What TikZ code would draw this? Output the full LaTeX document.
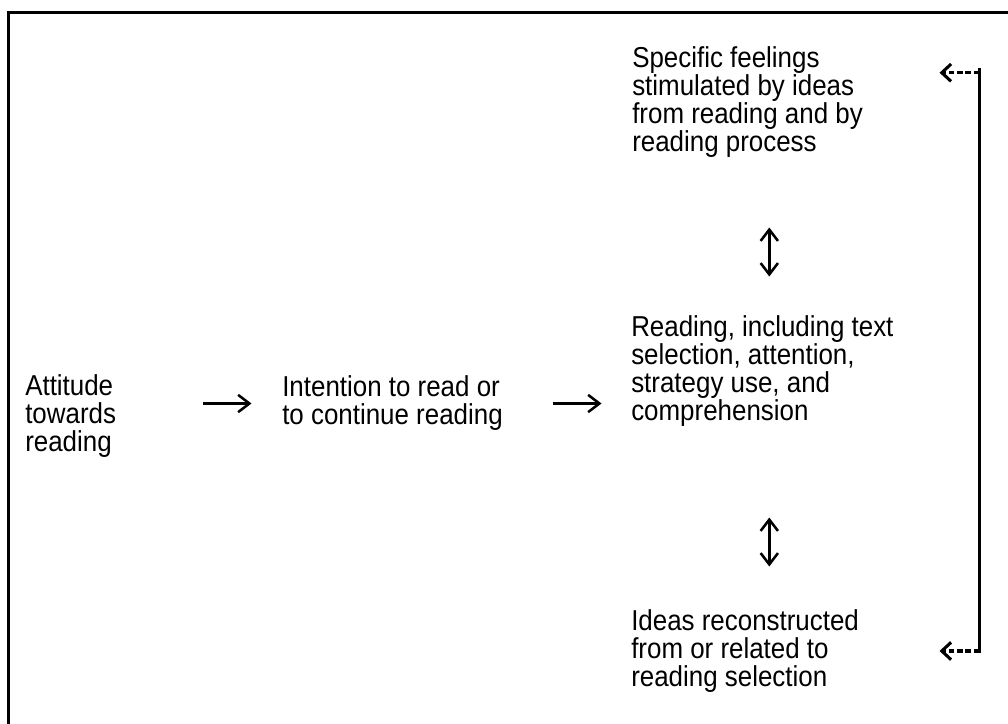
\documentclass[tikz,border=0pt]{standalone}
\usepackage{fontspec}
\setmainfont{Liberation Sans}[FakeStretch=0.9]
\usetikzlibrary{arrows.meta}
\tikzset{
  txt/.style={anchor=base west, inner sep=0pt, align=left, font=\fontsize{21.6}{20.9}\selectfont},
  arr/.style={line width=1.9pt, -{Straight Barb[length=8.5pt,width=13pt]}},
  darr/.style={line width=1.9pt, {Straight Barb[length=8.5pt,width=13pt]}-{Straight Barb[length=8.5pt,width=13pt]}},
  fbline/.style={line width=1.7pt},
  fbarr/.style={line width=2.3pt, dash pattern=on 4.3pt off 2pt, -{Straight Barb[length=7pt,width=13pt]}},
  frame/.style={line width=2.6pt}
}
\begin{document}
\begin{tikzpicture}[x=0.75pt,y=-0.75pt]
\useasboundingbox (0,0) rectangle (1008,724);
\draw[frame] (1012,12.3) -- (8.7,12.3) -- (8.7,728);
\node[txt] (att) at (25,451) {Attitude\\towards\\reading};
\node[txt] (int) at (282,424.7) {Intention to read or\\to continue reading};
\node[txt] (read) at (631,420) {Reading, including text\\selection, attention,\\strategy use, and\\comprehension};
\node[txt] (feel) at (632,151.1) {Specific feelings\\stimulated by ideas\\from reading and by\\reading process};
\node[txt] (ideas) at (631,686) {Ideas reconstructed\\from or related to\\reading selection};
\coordinate (a1s) at (203,403.5);
\coordinate (a1e) at (251.5,403.5);
\coordinate (a2s) at (553,403.5);
\coordinate (a2e) at (601.5,403.5);
\coordinate (d1t) at (769.3,227.5);
\coordinate (d1b) at (769.3,276.5);
\coordinate (d2t) at (769.3,517.5);
\coordinate (d2b) at (769.3,566.5);
\coordinate (fbt) at (979.5,68);
\coordinate (fbb) at (979.5,653);
\coordinate (fbts) at (979.5,72.7);
\coordinate (fbte) at (939.5,72.7);
\coordinate (fbbs) at (979.5,651);
\coordinate (fbbe) at (939.5,651);
\draw[arr] (a1s) -- (a1e);
\draw[arr] (a2s) -- (a2e);
\draw[darr] (d1t) -- (d1b);
\draw[darr] (d2t) -- (d2b);
\draw[fbline] (fbt) -- (fbb);
\draw[fbarr] (fbts) -- (fbte);
\draw[fbarr] (fbbs) -- (fbbe);
\end{tikzpicture}
\end{document}
